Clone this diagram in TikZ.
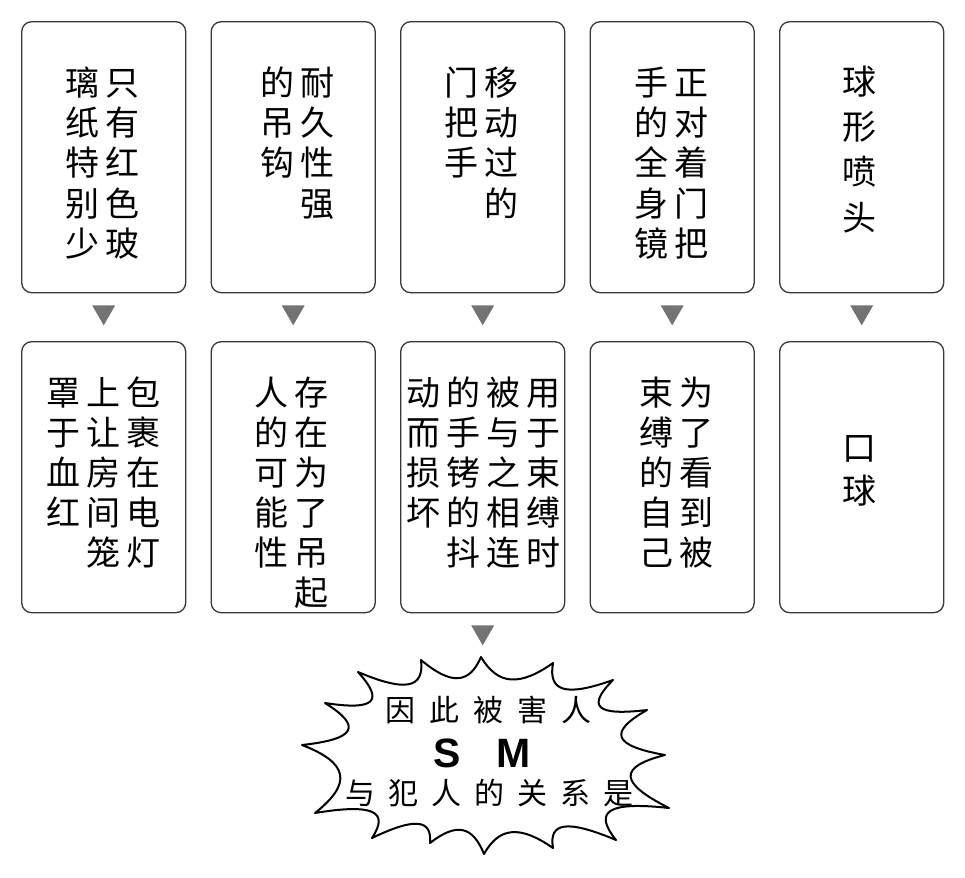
\documentclass[tikz,border=0pt]{standalone}
\usepackage{fontspec}
\setsansfont{Liberation Sans}
\newfontfamily\cjk{Noto Sans CJK SC}
\usetikzlibrary{calc}

\tikzset{
	card/.style={draw=black!78, line width=1.3pt, rounded corners=10pt, minimum width=164pt, minimum height=271pt, inner sep=0pt},
	hz/.style={font=\cjk\fontsize{34}{40}\selectfont, inner sep=0pt, text height=30pt, text depth=4pt},
	hzs/.style={font=\cjk\fontsize{30}{36}\selectfont, inner sep=0pt, text height=26.4pt, text depth=3.6pt},
	latin/.style={font=\sffamily\bfseries\fontsize{41}{44}\selectfont, inner sep=0pt, anchor=base},
	marker/.style={fill=black!55},
}

\begin{document}
\begin{tikzpicture}[x=1pt, y=-1pt]
	
	\useasboundingbox (0,0) rectangle (965,877);
	
	% Cards
	\foreach \i in {1,...,5} {
		\node[card] (top\i) at ({103.7+189.5*(\i-1)},157.2) {};
		\node[card] (bot\i) at ({103.7+189.5*(\i-1)},477.2) {};
	}
	
	% Markers between rows
	\foreach \i in {1,...,5}
		\fill[marker] ($(top\i.south)+(0,32)$) -- ++(-11.5,-20) -- ++(23,0) -- cycle;
	\fill[marker] ($(bot3.south)+(0,32)$) -- ++(-11.5,-20) -- ++(23,0) -- cycle;
	
	% Top card texts (columns read right to left)
	\foreach \c [count=\k from 0] in {只,有,红,色,玻} \node[hz] (t1a-\k) at (122,{83+40*\k}) {\c};
	\foreach \c [count=\k from 0] in {璃,纸,特,别,少} \node[hz] (t1b-\k) at (82,{83+40*\k}) {\c};
	\foreach \c [count=\k from 0] in {耐,久,性,强} \node[hz] (t2a-\k) at (317,{83+40*\k}) {\c};
	\foreach \c [count=\k from 0] in {的,吊,钩} \node[hz] (t2b-\k) at (277,{83+40*\k}) {\c};
	\foreach \c [count=\k from 0] in {移,动,过,的} \node[hz] (t3a-\k) at (501.7,{83+40*\k}) {\c};
	\foreach \c [count=\k from 0] in {门,把,手} \node[hz] (t3b-\k) at (461.7,{83+40*\k}) {\c};
	\foreach \c [count=\k from 0] in {正,对,着,门,把} \node[hz] (t4a-\k) at (691.7,{83+40*\k}) {\c};
	\foreach \c [count=\k from 0] in {手,的,全,身,镜} \node[hz] (t4b-\k) at (651.7,{83+40*\k}) {\c};
	\foreach \c [count=\k from 0] in {球,形,喷,头} \node[hz] (t5a-\k) at (859.3,{82+45*\k}) {\c};
	
	% Bottom card texts
	\foreach \c [count=\k from 0] in {包,裹,在,电,灯} \node[hz] (b1a-\k) at (143,{392+40*\k}) {\c};
	\foreach \c [count=\k from 0] in {上,让,房,间,笼} \node[hz] (b1b-\k) at (103,{392+40*\k}) {\c};
	\foreach \c [count=\k from 0] in {罩,于,血,红} \node[hz] (b1c-\k) at (63,{392+40*\k}) {\c};
	\foreach \c [count=\k from 0] in {存,在,为,了,吊,起} \node[hz] (b2a-\k) at (311.7,{392+40*\k}) {\c};
	\foreach \c [count=\k from 0] in {人,的,可,能,性} \node[hz] (b2b-\k) at (271.7,{392+40*\k}) {\c};
	\foreach \c [count=\k from 0] in {用,于,束,缚,时} \node[hz] (b3a-\k) at (543.3,{392+40*\k}) {\c};
	\foreach \c [count=\k from 0] in {被,与,之,相,连} \node[hz] (b3b-\k) at (503.3,{392+40*\k}) {\c};
	\foreach \c [count=\k from 0] in {的,手,铐,的,抖} \node[hz] (b3c-\k) at (463.3,{392+40*\k}) {\c};
	\foreach \c [count=\k from 0] in {动,而,损,坏} \node[hz] (b3d-\k) at (423.3,{392+40*\k}) {\c};
	\foreach \c [count=\k from 0] in {为,了,看,到,被} \node[hz] (b4a-\k) at (696.7,{392+40*\k}) {\c};
	\foreach \c [count=\k from 0] in {束,缚,的,自,己} \node[hz] (b4b-\k) at (656.7,{392+40*\k}) {\c};
	\foreach \c [count=\k from 0] in {口,球} \node[hz] (b5a-\k) at (859.3,{447+43*\k}) {\c};
	
	% Starburst
	\draw[line width=2pt, line join=round] (457.8,678.2)
		.. controls (467.6,677.7) and (475.1,670.7) .. (481,657)
		.. controls (497.7,685.0) and (519.3,686.8) .. (553,663)
		.. controls (547.9,691.8) and (565.9,696.9) .. (613,680)
		.. controls (586.2,707.0) and (596.4,716.0) .. (647,710)
		.. controls (607.7,732.3) and (613.1,745.8) .. (665,755)
		.. controls (617.9,767.0) and (619.1,782.9) .. (669,808)
		.. controls (608.5,801.3) and (592.6,810.9) .. (616,840)
		.. controls (567.4,819.6) and (548.5,822.0) .. (553,848)
		.. controls (519.9,825.0) and (499.2,826.8) .. (484,854)
		.. controls (472.6,825.7) and (456.4,822.4) .. (430,843)
		.. controls (432.1,819.0) and (414.7,817.5) .. (372,838)
		.. controls (389.8,811.0) and (372.7,803.5) .. (315,813)
		.. controls (352.5,783.3) and (348.6,762.9) .. (302,745)
		.. controls (355.8,739.1) and (362.7,726.5) .. (325,703)
		.. controls (374.8,710.7) and (384.7,701.4) .. (358,672)
		.. controls (405.5,692.1) and (424.4,688.5) .. (421,660)
		.. controls (436.1,672.6) and (448.1,678.7) .. (457.8,678.2) -- cycle;
	
	% Starburst text
	\foreach \c [count=\k from 0] in {因,此,被,害,人} \node[hzs] (s1-\k) at ({400+44*\k},710) {\c};
	\node[latin] (s) at (447,767) {S};
	\node[latin] (m) at (514,767) {M};
	\foreach \c [count=\k from 0] in {与,犯,人,的,关,系,是} \node[hzs] (s3-\k) at ({360+43*\k},793) {\c};
	
\end{tikzpicture}
\end{document}
